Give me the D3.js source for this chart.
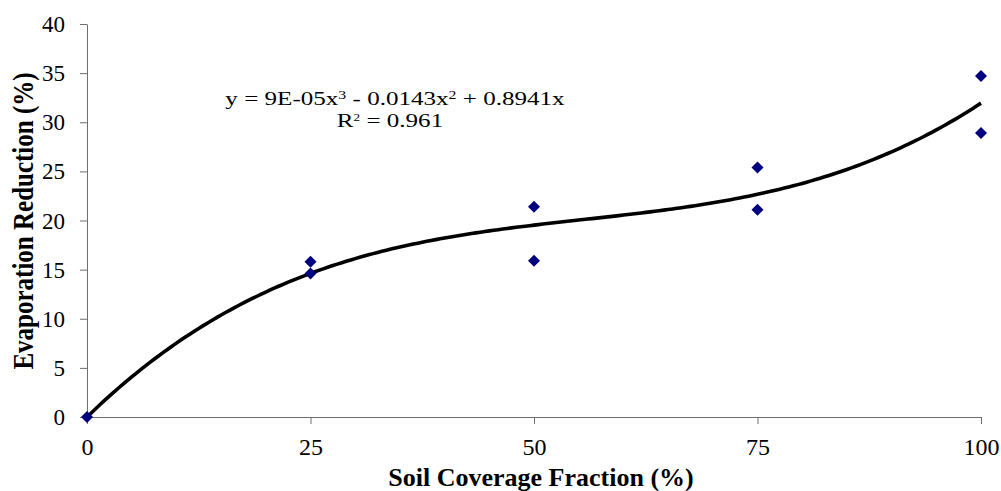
<!DOCTYPE html>
<html>
<head>
<meta charset="utf-8">
<script src="https://cdn.jsdelivr.net/npm/d3@7/dist/d3.min.js"></script>
<style>
  html, body { margin: 0; padding: 0; background: #fff; }
  svg { display: block; }
</style>
</head>
<body>
<svg id="chart" width="1001" height="491"></svg>
<script>
// Measured evaporation reduction against soil coverage fraction
const coverage  = [0, 25, 25, 50, 50, 75, 75, 100, 100];
const reduction = [0, 15.8, 14.6, 21.4, 15.9, 25.4, 21.1, 34.7, 28.9];

const xTicks = [0, 25, 50, 75, 100];
const yTicks = [0, 5, 10, 15, 20, 25, 30, 35, 40];

const serif = '"Liberation Serif", "Times New Roman", Times, serif';

const svg = d3.select("#chart");
const x = d3.scaleLinear().domain([0, 100]).range([87, 981]);
const y = d3.scaleLinear().domain([0, 40]).range([417, 24]);

// Least-squares cubic through the origin: y = a x^3 + b x^2 + c x
function fitCubic(xs, ys) {
  const S = (p) => d3.sum(xs, v => Math.pow(v, p));
  const T = (p) => d3.sum(xs, (v, i) => Math.pow(v, p) * ys[i]);
  const M = [
    [S(6), S(5), S(4), T(3)],
    [S(5), S(4), S(3), T(2)],
    [S(4), S(3), S(2), T(1)]
  ];
  for (let i = 0; i < 3; i++) {
    for (let k = i + 1; k < 3; k++) {
      const f = M[k][i] / M[i][i];
      for (let j = i; j < 4; j++) M[k][j] -= f * M[i][j];
    }
  }
  const r = [0, 0, 0];
  for (let i = 2; i >= 0; i--) {
    let s = M[i][3];
    for (let j = i + 1; j < 3; j++) s -= M[i][j] * r[j];
    r[i] = s / M[i][i];
  }
  return r;
}
const [a, b, c] = fitCubic(coverage, reduction);
const trend = v => a * v * v * v + b * v * v + c * v;

// Axes
const axisColor = "#6e6e6e";
const gy = svg.append("g")
  .attr("transform", `translate(${x(0)},0)`)
  .call(d3.axisLeft(y).tickValues(yTicks).tickSize(7).tickPadding(15).tickSizeOuter(0));
gy.selectAll("text").attr("dy", "0.33em").style("font-size", "23px");

const gx = svg.append("g")
  .attr("transform", `translate(0,${y(0)})`)
  .call(d3.axisBottom(x).tickValues(xTicks).tickSize(7).tickSizeOuter(0));
gx.selectAll("text").attr("y", 38).attr("dy", 0).style("font-size", "24px");

[gx, gy].forEach(g => {
  g.attr("font-family", null).attr("font-size", null);
  g.select(".domain").attr("stroke", axisColor);
  g.selectAll(".tick line").attr("stroke", axisColor);
  g.selectAll("text").style("font-family", serif).attr("fill", "#000");
});

// Trend line
const curve = d3.range(0, 100.01, 0.5);
svg.append("path")
  .datum(curve)
  .attr("fill", "none")
  .attr("stroke", "#000")
  .attr("stroke-width", 3.6)
  .attr("d", d3.line().x(d => x(d)).y(d => y(trend(d))));

// Data points
svg.append("g")
  .selectAll("path")
  .data(coverage.map((v, i) => [v, reduction[i]]))
  .join("path")
  .attr("transform", d => `translate(${x(d[0])},${y(d[1])}) rotate(45)`)
  .attr("d", d3.symbol(d3.symbolSquare, 72))
  .attr("fill", "#000080");

// Equation label (set slightly wide, like the source text box)
const eq = svg.append("text")
  .attr("transform", "translate(395,105) scale(1.32,1)")
  .attr("text-anchor", "middle")
  .style("font-family", serif)
  .style("font-size", "19px");
eq.append("tspan").text("y = 9E-05x");
eq.append("tspan").attr("dy", -6).style("font-size", "12px").text("3");
eq.append("tspan").attr("dy", 6).text(" - 0.0143x");
eq.append("tspan").attr("dy", -6).style("font-size", "12px").text("2");
eq.append("tspan").attr("dy", 6).text(" + 0.8941x");

const r2 = svg.append("text")
  .attr("transform", "translate(390,127) scale(1.32,1)")
  .attr("text-anchor", "middle")
  .style("font-family", serif)
  .style("font-size", "19px");
r2.append("tspan").text("R");
r2.append("tspan").attr("dy", -6).style("font-size", "10px").text("2");
r2.append("tspan").attr("dy", 6).text(" = 0.961");

// Axis titles
svg.append("text")
  .attr("x", 541).attr("y", 486)
  .attr("text-anchor", "middle")
  .style("font-family", serif)
  .style("font-size", "26px")
  .style("font-weight", "bold")
  .text("Soil Coverage Fraction (%)");

svg.append("text")
  .attr("transform", "translate(33,221) scale(1.2,1) rotate(-90)")
  .attr("text-anchor", "middle")
  .style("font-family", serif)
  .style("font-size", "25px")
  .style("font-weight", "bold")
  .text("Evaporation Reduction (%)");
</script>
</body>
</html>
